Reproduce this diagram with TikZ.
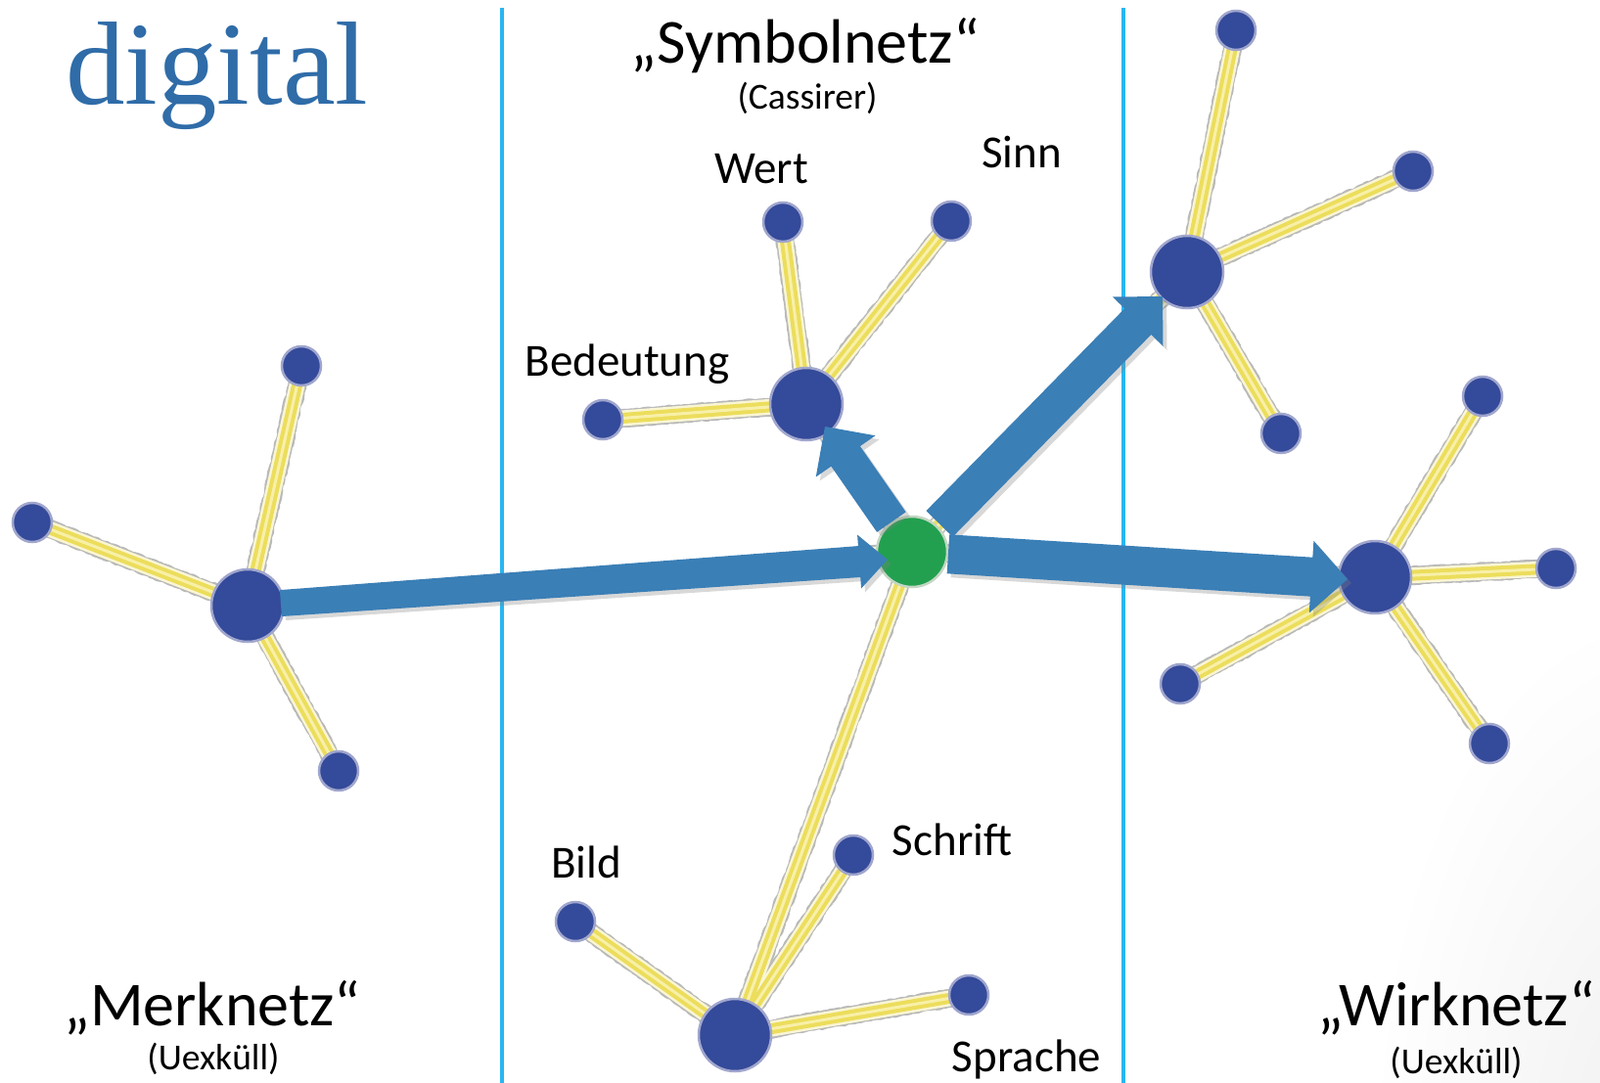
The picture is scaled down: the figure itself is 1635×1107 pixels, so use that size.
\documentclass[tikz,border=0pt]{standalone}
\usepackage{fontspec}
\setmainfont{Carlito}
\newfontfamily\titlefont{Liberation Serif}
\usetikzlibrary{calc,shadows,decorations.pathmorphing}
\pgfdeclarelayer{background}
\pgfsetlayers{background,main}

\definecolor{nodeblue}{RGB}{52,74,154}
\definecolor{nodegreen}{RGB}{34,160,80}
\definecolor{arrowblue}{RGB}{58,127,182}
\definecolor{titleblue}{RGB}{47,108,168}
\definecolor{divider}{RGB}{41,182,240}
\definecolor{linkglow}{RGB}{250,246,212}
\definecolor{linkyellow}{RGB}{236,221,92}
\definecolor{linkpale}{RGB}{248,240,168}
\definecolor{halo}{RGB}{160,166,205}

% #1 name, #2 start, #3 tip, #4 half width at start, #5 half width at head, #6 head length, #7 head half width
\newcommand\blockarrow[7]{%
  \coordinate (#1base) at ($(#3)!#6!(#2)$);
  \fill[arrowfill] ($(#2)!#4!90:(#3)$) -- ($(#1base)!#5!-90:(#2)$) -- ($(#1base)!#7!-90:(#2)$) -- (#3)
    -- ($(#1base)!#7!90:(#2)$) -- ($(#1base)!#5!90:(#2)$) -- ($(#2)!#4!-90:(#3)$) -- cycle;
}

\begin{document}
\begin{tikzpicture}[x=1pt,y=-1pt,
  hub/.style={circle, fill=nodeblue, draw=halo, line width=2.5pt, inner sep=0pt, minimum size=74pt},
  leaf/.style={circle, fill=nodeblue, draw=halo, line width=2.5pt, inner sep=0pt, minimum size=40pt},
  greenhub/.style={circle, fill=nodegreen, draw=green!20!gray!40, line width=2.5pt, inner sep=0pt, minimum size=72pt},
  arrowfill/.style={fill=arrowblue, drop shadow={opacity=0.3, shadow xshift=4pt, shadow yshift=-4pt}},
  netlabel/.style={font=\fontsize{64}{64}\selectfont, anchor=base, inner sep=0pt},
  sublabel/.style={font=\fontsize{37.5}{37.5}\selectfont, anchor=base, inner sep=0pt},
  lbl/.style={font=\fontsize{47}{47}\selectfont, anchor=base, inner sep=0pt},
  linkouter/.style={draw=gray!55, line width=19pt, line join=round, decorate, decoration={random steps, segment length=3pt, amplitude=0.9pt}},
  linkwhite/.style={draw=linkglow, line width=16pt},
  linkmid/.style={draw=linkyellow, line width=11pt},
  linkcore/.style={draw=linkpale, line width=3pt},
  divline/.style={draw=divider, line width=3.5pt}
]
\useasboundingbox (0,0) rectangle (1635,1107);

% ---- nodes ----
\node[hub] (L) at (253,619) {};
\node[leaf] (l1) at (308,374) {};
\node[leaf] (l2) at (33,534) {};
\node[leaf] (l3) at (346,788) {};

\node[hub] (B) at (824,413) {};
\node[leaf] (b1) at (800,227) {};
\node[leaf] (b2) at (972,226) {};
\node[leaf] (b3) at (616,429) {};

\node[greenhub] (G) at (932,564) {};

\node[hub] (UR) at (1213,278) {};
\node[leaf] (u1) at (1263,31) {};
\node[leaf] (u2) at (1444,175) {};
\node[leaf] (u3) at (1309,443) {};

\node[hub] (R) at (1405,590) {};
\node[leaf] (r1) at (1515,405) {};
\node[leaf] (r2) at (1590,581) {};
\node[leaf] (r3) at (1206,699) {};
\node[leaf] (r4) at (1522,760) {};

\node[hub] (BT) at (751,1058) {};
\node[leaf] (t1) at (588,942) {};
\node[leaf] (t2) at (872,874) {};
\node[leaf] (t3) at (990,1017) {};

% ---- background: dividers and links ----
\begin{pgfonlayer}{background}
  \fill[white] (0,0) rectangle (1635,1107);
  \begin{scope}
    \clip (0,0) rectangle (1635,1107);
    \shade[inner color=gray!12, outer color=white] (1700,1180) ellipse (300pt and 560pt);
  \end{scope}
  \coordinate (d1top) at (513,8); \coordinate (d1bot) at (513,1107);
  \coordinate (d2top) at (1148,8); \coordinate (d2bot) at (1148,1107);
  \draw[divline] (d1top) -- (d1bot);
  \draw[divline] (d2top) -- (d2bot);
  \def\linklist{L/l1,L/l2,L/l3,L/G,B/b1,B/b2,B/b3,B/G,G/UR,G/R,G/BT,UR/u1,UR/u2,UR/u3,R/r1,R/r2,R/r3,R/r4,BT/t1,BT/t2,BT/t3}
  \foreach \a/\b in \linklist { \path[linkouter] (\a.center) -- (\b.center); }
  \foreach \a/\b in \linklist { \path[linkwhite] (\a.center) -- (\b.center); }
  \foreach \a/\b in \linklist { \path[linkmid] (\a.center) -- (\b.center); }
  \foreach \a/\b in \linklist { \path[linkcore] (\a.center) -- (\b.center); }
\end{pgfonlayer}

% ---- arrows ----
\coordinate (tipG) at ($(G)+(-25,8)$);
\coordinate (tipB) at ($(B)+(19,23)$);
\coordinate (tipUR) at ($(UR)+(-25,25)$);
\coordinate (tipR) at ($(R)+(-28,2)$);
\coordinate (startL) at ($(L)!34pt!(tipG)$);
\coordinate (startGB) at ($(G)!37pt!(tipB)$);
\coordinate (startGU) at ($(G)!40pt!(tipUR)$);
\coordinate (startGR) at ($(G)!37pt!(tipR)$);
\blockarrow{a1}{startL}{tipG}{13.5pt}{16pt}{29pt}{27.5pt}
\blockarrow{a2}{startGB}{tipB}{18pt}{18pt}{37pt}{37pt}
\blockarrow{a3}{startGU}{tipUR}{19pt}{19pt}{36pt}{36pt}
\blockarrow{a4}{startGR}{tipR}{20pt}{20pt}{37pt}{37pt}

% ---- texts ----
\node[font=\titlefont\fontsize{121}{121}\selectfont, text=titleblue, anchor=base west, inner sep=0pt] (title) at (67,107) {digital};
\node[netlabel] (sym) at (823,65) {„Symbolnetz“};
\node[sublabel] (cas) at (825,112) {(Cassirer)};
\node[netlabel] (merk) at (217,1048) {„Merknetz“};
\node[sublabel] (uexl) at (218,1093) {(Uexküll)};
\node[netlabel] (wirk) at (1488,1048) {„Wirknetz“};
\node[sublabel] (uexr) at (1488,1097) {(Uexküll)};
\node[lbl] (wert) at (778,188) {Wert};
\node[lbl] (sinn) at (1044,172) {Sinn};
\node[lbl] (bed) at (641,384) {Bedeutung};
\node[lbl] (schrift) at (973,874) {Schrift};
\node[lbl] (bild) at (599,897) {Bild};
\node[lbl] (sprache) at (1049,1095) {Sprache};
\end{tikzpicture}
\end{document}
